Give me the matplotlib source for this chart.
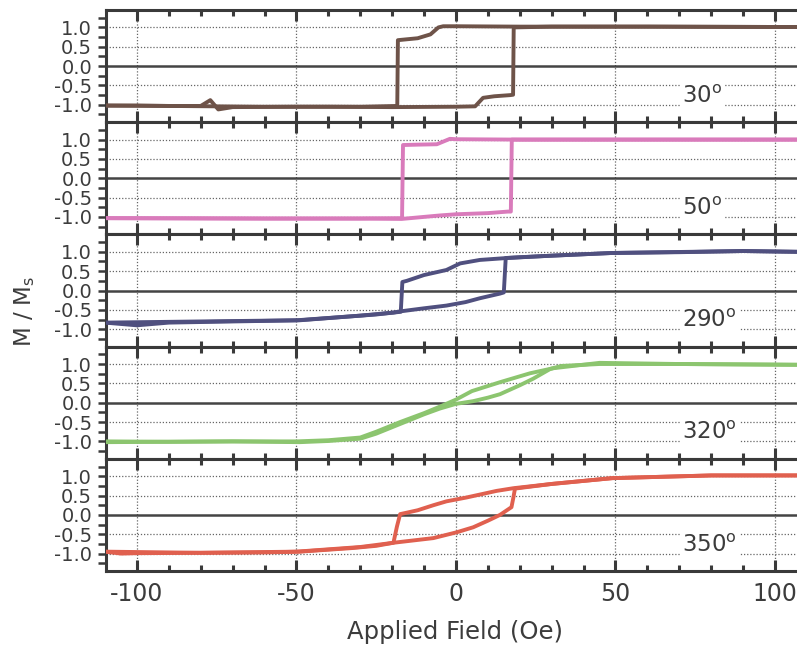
import matplotlib
matplotlib.use("Agg")
import matplotlib.pyplot as plt
from matplotlib.ticker import MultipleLocator, FixedLocator

plt.rcParams['font.family'] = ['DejaVu Sans']
plt.rcParams['mathtext.fontset'] = 'dejavusans'

# hysteresis loops, one pair of branches per angle
angles = ['30', '50', '290', '320', '350']
colors = ['#6e5349', '#d97bbb', '#50507f', '#8cc56f', '#e0604f']

# 30 deg
up30_x = [-110, -90, -60, -40, -20, 0, 6, 8.5, 12, 17, 17.9, 18.1, 30, 60, 107]
up30_y = [-1.02, -1.03, -1.05, -1.05, -1.06, -1.05, -1.04, -0.82, -0.78, -0.75, -0.74, 1.0, 1.02, 1.02, 1.01]
dn30_x = [107, 60, 20, 0, -4, -5.5, -8, -12, -17, -18.2, -18.4, -30, -50, -70, -74.5, -77, -80, -90, -100, -110]
dn30_y = [1.01, 1.02, 1.02, 1.03, 1.03, 1.0, 0.82, 0.72, 0.68, 0.67, -1.03, -1.05, -1.05, -1.06, -1.12, -0.88, -1.03, -1.03, -1.02, -1.02]

# 50 deg
up50_x = [-110, -60, -27, -17, -5, 0, 10, 16.3, 17.2, 17.5, 40, 107]
up50_y = [-1.03, -1.04, -1.04, -1.05, -0.96, -0.93, -0.9, -0.86, -0.86, 1.0, 1.0, 1.0]
dn50_x = [107, 20, 0, -1.9, -6, -12, -16.6, -16.9, -30, -60, -110]
dn50_y = [1.0, 1.0, 1.01, 1.02, 0.88, 0.87, 0.86, -1.03, -1.04, -1.04, -1.03]

# 290 deg
up290_x = [-110, -100, -90, -70, -49, -30, -19.6, -17.5, -10, -3, 3, 7.5, 13.8, 15.0, 15.6, 20, 30, 49, 70, 90, 107]
up290_y = [-0.83, -0.9, -0.83, -0.8, -0.77, -0.65, -0.57, -0.54, -0.46, -0.39, -0.3, -0.2, -0.08, -0.05, 0.84, 0.86, 0.9, 0.97, 0.99, 1.02, 1.0]
dn290_x = [107, 90, 49, 30, 16, 7.5, 1.3, -3, -10, -15.4, -16.8, -17.3, -25, -50, -80, -110]
dn290_y = [1.0, 1.02, 0.97, 0.9, 0.84, 0.79, 0.7, 0.53, 0.4, 0.25, 0.22, -0.55, -0.62, -0.77, -0.8, -0.83]

# 320 deg
up320_x = [-110, -90, -70, -49, -40, -30, -25, -17.5, -10, -5, 0, 5.4, 10, 13.8, 20, 24.2, 29.5, 33, 45, 70, 107]
up320_y = [-1.0, -1.01, -1.0, -1.02, -0.99, -0.93, -0.8, -0.55, -0.3, -0.15, -0.03, 0.04, 0.13, 0.22, 0.45, 0.62, 0.87, 0.95, 1.0, 1.0, 0.98]
dn320_x = [107, 70, 45, 30.4, 23.2, 13.8, 5, 0, -5, -10, -17.5, -25, -30, -40, -50, -70, -110]
dn320_y = [0.98, 1.0, 1.03, 0.89, 0.76, 0.53, 0.3, 0.08, -0.1, -0.27, -0.5, -0.75, -0.9, -0.97, -1.0, -1.0, -1.02]

# 350 deg
up350_x = [-110, -105, -100, -80, -60, -49, -33, -25, -19.6, -7.1, 0.2, 5.4, 10, 13.8, 17.4, 18.0, 18.5, 30, 49, 80, 107]
up350_y = [-0.95, -1.0, -0.99, -0.98, -0.97, -0.95, -0.86, -0.8, -0.72, -0.6, -0.45, -0.32, -0.15, 0.0, 0.2, 0.45, 0.68, 0.8, 0.95, 1.02, 1.02]
dn350_x = [107, 80, 49, 30, 18, 12.7, 3.3, -3, -7.1, -12, -17.5, -18.5, -19.6, -30, -50, -80, -110]
dn350_y = [1.02, 1.02, 0.95, 0.8, 0.69, 0.62, 0.45, 0.35, 0.25, 0.12, 0.02, -0.3, -0.72, -0.83, -0.95, -0.98, -0.95]

loops = [
    (up30_x, up30_y, dn30_x, dn30_y),
    (up50_x, up50_y, dn50_x, dn50_y),
    (up290_x, up290_y, dn290_x, dn290_y),
    (up320_x, up320_y, dn320_x, dn320_y),
    (up350_x, up350_y, dn350_x, dn350_y),
]

x_ticks = [-100, -50, 0, 50, 100]
y_ticks = [-1.0, -0.5, 0.0, 0.5, 1.0]

fig, axes = plt.subplots(5, 1, figsize=(7.97, 6.47), dpi=100, sharex=True)
fig.subplots_adjust(left=106 / 797, right=1.0, top=1 - 10 / 647, bottom=1 - 571 / 647, hspace=0)

spine_c = '#3a3a3a'
text_c = '#3c3c3c'

for ax, ang, col, (ux, uy, dx, dy) in zip(axes, angles, colors, loops):
    ax.set_xlim(-109.7, 106.9)
    ax.set_ylim(-1.45, 1.45)
    for y in [-1.0, -0.5, 0.5, 1.0]:
        ax.axhline(y, color='#666666', lw=0.9, ls=(0, (1, 1.5)), zorder=1)
    for x in x_ticks:
        ax.axvline(x, color='#666666', lw=0.9, ls=(0, (1, 1.5)), zorder=1)
    ax.axhline(0, color='#444444', lw=1.8, zorder=1)

    ax.plot(ux, uy, color=col, lw=2.8, zorder=3, solid_joinstyle='round')
    ax.plot(dx, dy, color=col, lw=2.8, zorder=3, solid_joinstyle='round')

    ax.text(71, -0.78, ang + r'$^{\mathrm{o}}$', fontsize=16.5, color=text_c, va='center', ha='left',
            zorder=4, bbox=dict(facecolor='white', edgecolor='none', pad=2))

    for s in ['top', 'bottom', 'left']:
        ax.spines[s].set_linewidth(2.2)
        ax.spines[s].set_color(spine_c)
    ax.spines['right'].set_visible(False)

    ax.xaxis.set_major_locator(FixedLocator(x_ticks))
    ax.xaxis.set_minor_locator(MultipleLocator(10))
    ax.tick_params(axis='x', which='major', direction='in', top=True, bottom=True,
                   length=8, width=2.2, color=spine_c, labelsize=17, labelcolor=text_c, pad=8)
    ax.tick_params(axis='x', which='minor', direction='in', top=True, bottom=True,
                   length=4.5, width=2.2, color=spine_c)

    ax.yaxis.set_major_locator(FixedLocator(y_ticks))
    ax.yaxis.set_minor_locator(MultipleLocator(0.25))
    ax.set_yticklabels(['%.1f' % v for v in y_ticks])
    ax.tick_params(axis='y', which='both', direction='out', left=True, right=False,
                   length=6, width=1.8, color=spine_c)
    ax.tick_params(axis='y', which='major', labelsize=14, labelcolor=text_c, pad=4)

axes[-1].set_xticklabels([str(v) for v in x_ticks])

fig.text(455 / 797, 1 - 632 / 647, 'Applied Field (Oe)', fontsize=17.5, color=text_c, ha='center', va='center')
fig.text(25 / 797, 1 - 311 / 647, r'M / M$_{\mathrm{s}}$', fontsize=16.5, color=text_c, ha='center', va='center',
         rotation=90)

fig.savefig('out.png', dpi=100)
